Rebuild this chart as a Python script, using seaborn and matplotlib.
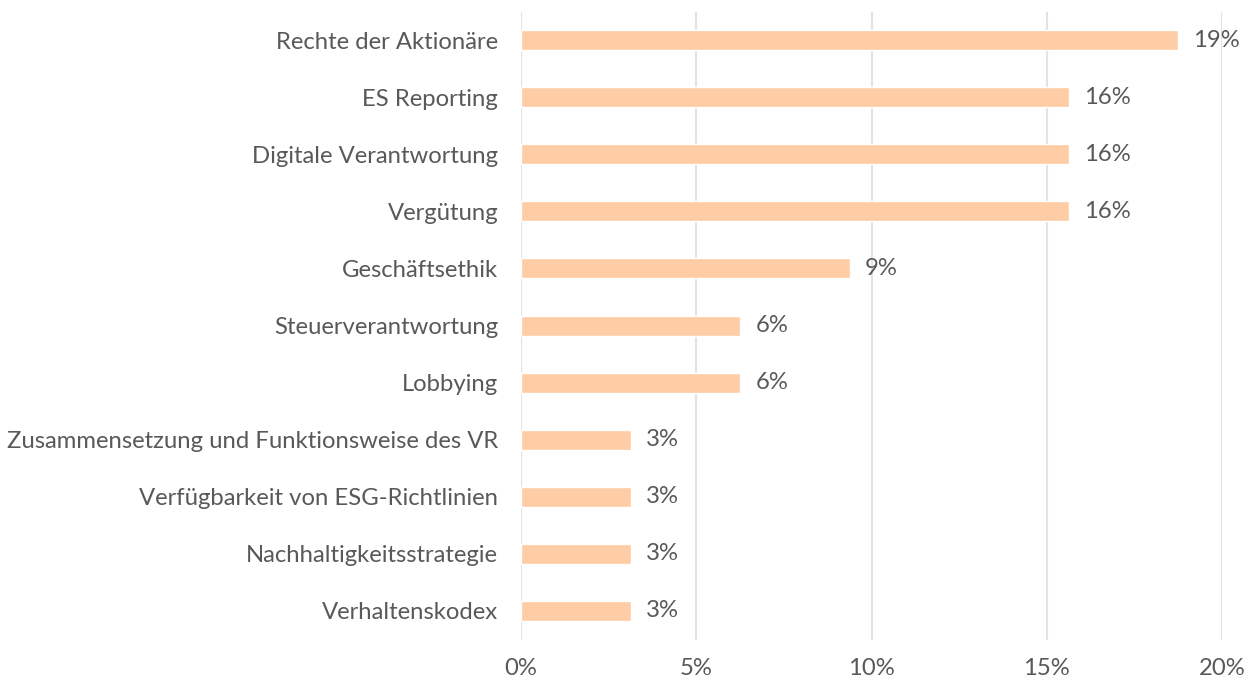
"""
Themen im Engagement – horizontales Balkendiagramm
"""

import numpy as np
import pandas as pd
import matplotlib.pyplot as plt
import seaborn as sns

# daten (anteil in %)
themen = ['Rechte der Aktionäre', 'ES Reporting', 'Digitale Verantwortung', 'Vergütung',
          'Geschäftsethik', 'Steuerverantwortung', 'Lobbying',
          'Zusammensetzung und Funktionsweise des VR', 'Verfügbarkeit von ESG-Richtlinien',
          'Nachhaltigkeitsstrategie', 'Verhaltenskodex']
anteil = [18.75, 15.625, 15.625, 15.625, 9.375, 6.25, 6.25, 3.125, 3.125, 3.125, 3.125]
x_ticks = [0, 5, 10, 15, 20]

dados = pd.DataFrame({'thema': themen, 'anteil': anteil})

sns.set_style("white")
plt.rcParams['font.family'] = ['Lato', 'DejaVu Sans']

textfarbe = '#595959'
fig = plt.figure(figsize=(12.57, 6.82), dpi=100)
ax = fig.add_axes([0.4145, 0.0623, 0.9722 - 0.4145, 0.983 - 0.0623])

sns.barplot(data=dados, x='anteil', y='thema', orient='h', color='#FECDA5',
            width=0.35, saturation=1, ax=ax, zorder=2)

# beschriftung der balken
ax.bar_label(ax.containers[0], labels=[f'{round(v)}%' for v in anteil],
             padding=11, fontsize=17.2, color=textfarbe)

ax.set_xlim(0, 20)
ax.set_ylim(10.5, -0.5)
ax.set_xticks(x_ticks)
ax.set_xticklabels([f'{t}%' for t in x_ticks])
ax.tick_params(axis='x', length=0, pad=13, labelsize=17.2, labelcolor=textfarbe)
ax.tick_params(axis='y', length=0, pad=16.5, labelsize=17.2, labelcolor=textfarbe)
ax.set_xlabel('')
ax.set_ylabel('')

# grade vertical
ax.grid(axis='x', color='#E3E3E3', linewidth=1.5, zorder=0)
ax.set_axisbelow(True)
for s in ax.spines.values():
    s.set_visible(False)

fig.savefig('out.png', dpi=100)
